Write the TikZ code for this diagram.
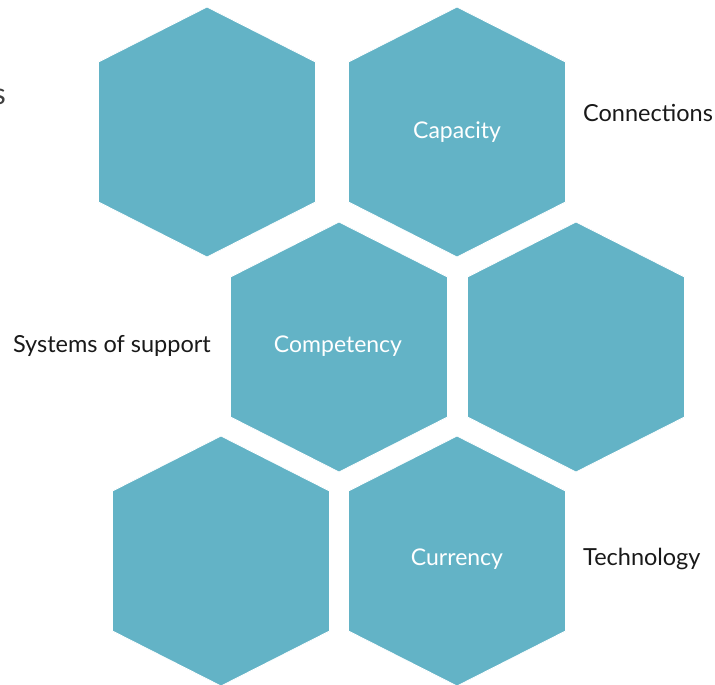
\documentclass[tikz,border=0pt]{standalone}
\usepackage{fontspec}
\setmainfont{Lato}
\definecolor{cellblue}{RGB}{99,179,198}
\definecolor{labelgrey}{RGB}{25,25,25}
\tikzset{
  cell/.style={fill=cellblue,draw=white,line width=0.8pt},
  intext/.style={text=white,inner sep=0pt,font=\fontsize{23}{27}\selectfont},
  outtext/.style={text=labelgrey,inner sep=0pt,font=\fontsize{23.5}{28}\selectfont},
  pics/hexcell/.style={code={
    \path[cell] (0,-125) -- (108.5,-70) -- (108.5,70) -- (0,125)
      -- (-108.5,70) -- (-108.5,-70) -- cycle;}}
}
\begin{document}
\begin{tikzpicture}[x=1pt,y=-1pt]
  \useasboundingbox (0,0) rectangle (715,685);
  \foreach \cx/\cy in {207/132,457/132,339/347,576/347,221/561,457/561}
    \pic at (\cx,\cy) {hexcell};
  \node[intext] (capacity) at (457,132) {Capacity};
  \node[intext] (competency) at (338,346) {Competency};
  \node[intext] (currency) at (457,559) {Currency};
  \node[outtext,anchor=west] (connections) at (583,113) {Connections};
  \node[outtext,anchor=east] (systems) at (211,346) {Systems of support};
  \node[outtext,anchor=west] (technology) at (583,559) {Technology};
  \node[outtext,anchor=east,font=\fontsize{30}{36}\selectfont,text=black!75] (cutoff) at (6,97) {s};
\end{tikzpicture}
\end{document}
